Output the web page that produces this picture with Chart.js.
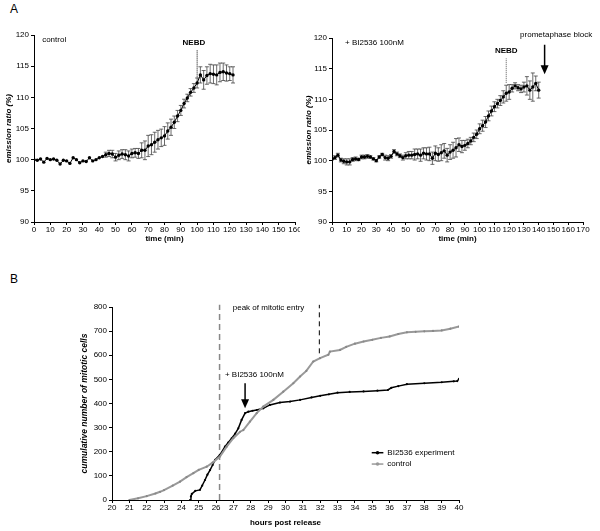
<!DOCTYPE html>
<html>
<head>
<meta charset="utf-8">
<script src="https://cdn.jsdelivr.net/npm/chart.js@4.4.1/dist/chart.umd.min.js"></script>
<style>
  body { margin: 0; background: #fff; font-family: "Liberation Sans", Arial, sans-serif; }
  #page { position: relative; width: 600px; height: 531px; overflow: hidden; }
  .box { position: absolute; }
  .panel { position: absolute; font-size: 12px; }
</style>
</head>
<body>
<div id="page">
  <div class="panel" style="left:10px;top:2px">A</div>
  <div class="panel" style="left:10px;top:272px">B</div>
  <div class="box" style="left:0;top:0;width:300px;height:250px"><canvas id="ctrlChart"></canvas></div>
  <div class="box" style="left:300px;top:0;width:300px;height:250px"><canvas id="biChart"></canvas></div>
  <div class="box" style="left:0;top:270px;width:600px;height:261px"><canvas id="cumChart"></canvas></div>
</div>
<script>
// panel A, left: control cell
const ctrlTime = [0, 2, 4, 6, 8, 10, 12, 14, 16, 18, 20, 22, 24, 26, 28, 30, 32, 34, 36, 38, 40,
  42, 44, 46, 48, 50, 52, 54, 56, 58, 60, 62, 64, 66, 68, 70, 72, 74, 76, 78, 80,
  82, 84, 86, 88, 90, 92, 94, 96, 98, 100, 102, 104, 106, 108, 110, 112, 114, 116, 118, 120, 122];
const ctrlRatio = [100.0, 99.9, 100.1, 99.6, 100.2, 100.0, 100.1, 99.9, 99.3, 99.9, 99.8, 99.4, 100.3, 100.0, 99.5, 99.8, 99.7, 100.3, 99.8, 100.0, 100.3,
  100.5, 100.8, 101.0, 100.9, 100.4, 100.7, 100.9, 100.8, 100.6, 101.0, 101.1, 101.0, 101.5, 101.5, 102.2, 102.4, 102.8, 103.2, 103.5, 103.8,
  104.6, 105.2, 106.0, 107.0, 107.9, 109.0, 109.9, 110.8, 111.5, 112.3, 113.6, 112.8, 113.5, 113.8, 113.7, 113.6, 114.0, 114.1, 113.9, 113.8, 113.6];
const ctrlErr = [0, 0, 0, 0, 0, 0, 0, 0, 0, 0, 0, 0, 0, 0, 0, 0, 0, 0, 0, 0, 0,
  0, 0.4, 0.5, 0.6, 0.6, 0.7, 0.7, 0.8, 0.8, 0.7, 0.7, 0.8, 1.2, 1.5, 1.7, 1.6, 1.6, 1.5, 1.4, 1.5,
  1.3, 1.3, 1.0, 0.9, 0.8, 0.7, 0.6, 0.6, 0.7, 0.8, 1.3, 1.5, 1.4, 1.5, 1.5, 1.6, 1.5, 1.4, 1.3, 1.1, 1.3];

// panel A, right: + BI2536 100nM
const biTime = [0, 2, 4, 6, 8, 10, 12, 14, 16, 18, 20, 22, 24, 26, 28, 30, 32, 34, 36, 38, 40,
  42, 44, 46, 48, 50, 52, 54, 56, 58, 60, 62, 64, 66, 68, 70, 72, 74, 76, 78, 80,
  82, 84, 86, 88, 90, 92, 94, 96, 98, 100, 102, 104, 106, 108, 110, 112, 114, 116, 118, 120,
  122, 124, 126, 128, 130, 132, 134, 136, 138, 140];
const biRatio = [100.2, 100.5, 100.9, 100.1, 99.9, 99.8, 99.8, 100.2, 100.3, 100.2, 100.6, 100.6, 100.7, 100.6, 100.3, 100.0, 100.6, 101.0, 100.5, 100.4, 100.7,
  101.5, 101.1, 100.8, 100.5, 100.8, 100.9, 100.9, 101.0, 101.1, 100.9, 101.2, 101.1, 101.1, 100.4, 101.2, 101.0, 101.3, 101.6, 100.9, 101.4,
  101.7, 102.1, 102.6, 102.3, 102.5, 102.8, 103.2, 103.8, 104.3, 105.2, 105.7, 106.3, 107.3, 108.1, 108.8, 109.3, 109.8, 110.4, 111.0, 111.2,
  111.8, 112.2, 111.9, 111.7, 112.0, 112.2, 111.5, 112.0, 112.6, 111.5, 111.8];
const biErr = [0, 0.3, 0.3, 0.3, 0.4, 0.5, 0.5, 0.3, 0.3, 0.2, 0.3, 0.3, 0.3, 0.2, 0.2, 0.2, 0.2, 0.2, 0.4, 0.4, 0.3,
  0.3, 0.3, 0.3, 0.4, 0.5, 0.6, 0.6, 0.9, 0.8, 1.0, 0.9, 1.0, 1.1, 1.0, 1.2, 1.1, 1.3, 1.2, 1.1, 1.2,
  1.3, 1.5, 1.1, 1.0, 0.8, 0.7, 0.6, 0.7, 0.7, 0.8, 0.9, 0.9, 0.8, 0.8, 0.8, 0.7, 0.8, 1.0, 1.3, 1.2,
  0.6, 0.5, 0.5, 0.6, 0.8, 1.5, 1.5, 2.3, 1.2, 1.3];

// panel B: cumulative number of mitotic cells
const expHours = [24.5, 24.55, 24.6, 24.8, 25.07, 25.2, 25.36, 25.5, 25.65, 25.8, 25.94, 26.22, 26.51, 26.7, 26.9, 27.1, 27.28, 27.47, 27.67, 27.86,
  28.1, 28.34, 28.72, 29.1, 29.68, 30.26, 30.84, 31.5, 32, 32.5, 33, 33.7, 34.5, 35.3, 35.9, 36.1, 36.5, 37, 38, 39, 39.7, 39.9, 40];
const expCells = [0, 15, 25, 38, 42, 60, 83, 105, 124, 145, 166, 187, 221, 238, 256, 275, 297, 332, 360, 366,
  370, 373, 380, 394, 404, 408, 415, 425, 432, 438, 445, 448, 450, 453, 456, 465, 472, 480, 484, 488, 492, 493, 502];
const ctrlHours = [21, 21.5, 22, 22.5, 22.77, 23, 23.5, 23.92, 24.3, 24.69, 25, 25.46, 25.8, 26.22, 26.61, 26.99, 27.38, 27.57, 27.95, 28.34,
  28.72, 29.3, 29.87, 30.45, 30.84, 31.2, 31.6, 31.99, 32.47, 32.56, 33.14, 33.5, 34, 34.5, 35, 35.5, 36, 36.5, 37, 37.5, 38, 38.5, 39, 39.5, 40];
const ctrlCells = [0, 7, 16, 27, 34, 41, 60, 76, 95, 111, 125, 138, 155, 180, 221, 256, 283, 290, 325, 360,
  387, 415, 449, 484, 512, 535, 574, 588, 602, 615, 622, 635, 648, 657, 664, 672, 678, 688, 695, 697, 699, 701, 703, 710, 719];

const nebdCtrl = 100;
const nebdBi = 118;
const blockTime = 144;
const peakStart = 26.2;
const peakEnd = 31.95;
const drugTime = 27.67;

Chart.defaults.font.family = '"Liberation Sans", Arial, sans-serif';
Chart.defaults.font.size = 8;
Chart.defaults.color = '#000';
Chart.defaults.animation = false;

const FONT = '"Liberation Sans", Arial, sans-serif';

function pts(xs, ys) {
  return xs.map((v, i) => ({ x: v, y: ys[i] }));
}

function vline(xv, y1, y2, color, dash, w) {
  return {
    data: [{ x: xv, y: y1 }, { x: xv, y: y2 }],
    borderColor: color, borderWidth: w, borderDash: dash,
    pointRadius: 0, clip: false
  };
}

// width / height of the axis boxes is fixed so the plot areas line up with the picture
function yAxis(min, max, step, title, width, titleSize) {
  return {
    type: 'linear', min: min, max: max,
    ticks: { stepSize: step, padding: 2 },
    grid: { drawOnChartArea: false, tickLength: 3, color: '#000' },
    border: { color: '#000' },
    title: { display: true, text: title, font: { weight: 'bold', style: 'italic', size: titleSize || 8 }, padding: { top: 4, bottom: 0 } },
    afterFit: s => { s.width = width; s.paddingTop = 0; s.paddingBottom = 0; }
  };
}

function xAxis(min, max, step, title, height) {
  return {
    type: 'linear', min: min, max: max,
    ticks: { stepSize: step, padding: 0, maxRotation: 0, autoSkip: false },
    grid: { drawOnChartArea: false, tickLength: 3, color: '#000' },
    border: { color: '#000' },
    title: { display: true, text: title, font: { weight: 'bold' }, padding: { top: 0, bottom: 2 } },
    afterFit: s => { s.height = height; s.paddingLeft = 0; s.paddingRight = 0; }
  };
}

function errorBars(times, vals, errs) {
  return {
    id: 'errorBars',
    beforeDatasetsDraw(chart) {
      const { ctx, scales: { x, y } } = chart;
      ctx.save();
      ctx.strokeStyle = '#444';
      ctx.lineWidth = 0.8;
      times.forEach((t, i) => {
        if (!errs[i]) return;
        const px = x.getPixelForValue(t);
        const top = y.getPixelForValue(vals[i] + errs[i]);
        const bot = y.getPixelForValue(vals[i] - errs[i]);
        ctx.beginPath();
        ctx.moveTo(px, top); ctx.lineTo(px, bot);
        ctx.moveTo(px - 2, top); ctx.lineTo(px + 2, top);
        ctx.moveTo(px - 2, bot); ctx.lineTo(px + 2, bot);
        ctx.stroke();
      });
      ctx.restore();
    }
  };
}

function notes(list) {
  return {
    id: 'notes',
    afterDatasetsDraw(chart) {
      const { ctx, scales: { x, y } } = chart;
      ctx.save();
      list.forEach(n => {
        const px = x.getPixelForValue(n.x);
        if (n.arrow) {
          const y1 = y.getPixelForValue(n.y), y2 = y.getPixelForValue(n.y2);
          ctx.strokeStyle = '#000'; ctx.fillStyle = '#000'; ctx.lineWidth = 1.5;
          ctx.beginPath(); ctx.moveTo(px, y1); ctx.lineTo(px, y2 - 6); ctx.stroke();
          ctx.beginPath(); ctx.moveTo(px - 4, y2 - 9); ctx.lineTo(px + 4, y2 - 9); ctx.lineTo(px, y2); ctx.closePath(); ctx.fill();
          return;
        }
        if (n.key) {
          const py = y.getPixelForValue(n.y), px2 = x.getPixelForValue(n.x2);
          ctx.strokeStyle = n.key; ctx.fillStyle = n.key; ctx.lineWidth = 1.5;
          ctx.beginPath(); ctx.moveTo(px, py); ctx.lineTo(px2, py); ctx.stroke();
          ctx.beginPath(); ctx.arc((px + px2) / 2, py, 1.8, 0, Math.PI * 2); ctx.fill();
          ctx.fillStyle = '#000'; ctx.font = '8px ' + FONT;
          ctx.textAlign = 'left'; ctx.textBaseline = 'middle';
          ctx.fillText(n.text, px2 + 4, py);
          return;
        }
        ctx.fillStyle = '#000';
        ctx.font = (n.bold ? 'bold ' : '') + '8px ' + FONT;
        ctx.textAlign = n.align || 'left';
        ctx.textBaseline = 'middle';
        ctx.fillText(n.text, px, y.getPixelForValue(n.y));
      });
      ctx.restore();
    }
  };
}

const noLegend = { legend: { display: false }, tooltip: { enabled: false } };

new Chart(document.getElementById('ctrlChart'), {
  type: 'line',
  data: {
    datasets: [
      { data: pts(ctrlTime, ctrlRatio), borderColor: '#000', borderWidth: 1, pointRadius: 1.7,
        pointBackgroundColor: '#000', pointBorderWidth: 0, tension: 0 },
      vline(nebdCtrl, 113.2, 117.6, '#000', [1, 1], 1)
    ]
  },
  options: {
    responsive: true, maintainAspectRatio: false,
    layout: { padding: { left: 0, right: 5, top: 35, bottom: 4 } },
    plugins: noLegend,
    scales: {
      x: xAxis(0, 160, 10, 'time (min)', 24),
      y: yAxis(90, 120, 5, 'emission ratio (%)', 34)
    }
  },
  plugins: [errorBars(ctrlTime, ctrlRatio, ctrlErr), notes([
    { x: 5, y: 119.2, text: 'control' },
    { x: 98, y: 118.7, text: 'NEBD', bold: true, align: 'center' }
  ])]
});

new Chart(document.getElementById('biChart'), {
  type: 'line',
  data: {
    datasets: [
      { data: pts(biTime, biRatio), borderColor: '#000', borderWidth: 1, pointRadius: 1.7,
        pointBackgroundColor: '#000', pointBorderWidth: 0, tension: 0 },
      vline(nebdBi, 112.7, 116.7, '#555', [1, 1], 1)
    ]
  },
  options: {
    responsive: true, maintainAspectRatio: false,
    layout: { padding: { left: 0, right: 17, top: 38, bottom: 4 } },
    plugins: noLegend,
    scales: {
      x: xAxis(0, 170, 10, 'time (min)', 24),
      y: yAxis(90, 120, 5, 'emission ratio (%)', 32)
    }
  },
  plugins: [errorBars(biTime, biRatio, biErr), notes([
    { x: 8.8, y: 119.2, text: '+ BI2536 100nM' },
    { x: 118, y: 117.9, text: 'NEBD', bold: true, align: 'center' },
    { x: 127.4, y: 120.6, text: 'prometaphase block' },
    { x: blockTime, y: 118.9, y2: 114.1, arrow: true }
  ])]
});

new Chart(document.getElementById('cumChart'), {
  type: 'line',
  data: {
    datasets: [
      { data: pts(ctrlHours, ctrlCells), borderColor: '#999', borderWidth: 2, pointRadius: 1.1,
        pointBackgroundColor: '#888', pointBorderWidth: 0, tension: 0 },
      { data: pts(expHours, expCells), borderColor: '#000', borderWidth: 1.5, pointRadius: 1.1,
        pointBackgroundColor: '#000', pointBorderWidth: 0, tension: 0 },
      vline(peakStart, 0, 809, '#888', [6, 4], 1.5),
      vline(peakEnd, 608, 809, '#000', [5, 4], 1)
    ]
  },
  options: {
    responsive: true, maintainAspectRatio: false,
    layout: { padding: { left: 76, right: 141, top: 37, bottom: 1 } },
    plugins: noLegend,
    scales: {
      x: xAxis(20, 40, 1, 'hours post release', 30),
      y: yAxis(0, 800, 100, 'cumulative number of mitotic cells', 36, 8.5)
    }
  },
  plugins: [notes([
    { x: 26.96, y: 798, text: 'peak of mitotic entry' },
    { x: 26.51, y: 519, text: '+ BI2536 100nM' },
    { x: drugTime, y: 484, y2: 380, arrow: true },
    { x: 34.97, x2: 35.64, y: 196, key: '#000', text: 'BI2536 experiment' },
    { x: 34.97, x2: 35.64, y: 149, key: '#999', text: 'control' }
  ])]
});
</script>
</body>
</html>
